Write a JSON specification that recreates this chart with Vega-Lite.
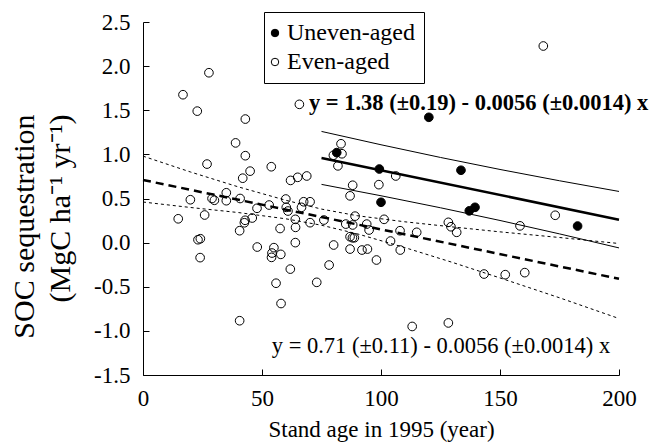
{
  "$schema": "https://vega.github.io/schema/vega-lite/v6.json",
  "width": 476,
  "height": 353,
  "autosize": {"type": "none"},
  "padding": {"left": 143, "top": 22, "right": 37, "bottom": 70},
  "background": "white",
  "config": {
    "view": {"stroke": null},
    "font": "Liberation Serif",
    "axis": {
      "grid": false,
      "domainColor": "black",
      "domainWidth": 1,
      "tickColor": "black",
      "tickWidth": 1,
      "tickSize": -6,
      "labelColor": "black",
      "titleColor": "black",
      "labelFont": "Liberation Serif",
      "titleFont": "Liberation Serif",
      "labelFontSize": 23,
      "titleFontSize": 23,
      "titleFontWeight": "normal",
      "labelFlush": false,
      "labelOverlap": false
    }
  },
  "datasets": {
    "pts": [
      {"age": 27.7, "soc": 1.925, "group": "Even-aged"},
      {"age": 16.8, "soc": 1.676, "group": "Even-aged"},
      {"age": 22.8, "soc": 1.49, "group": "Even-aged"},
      {"age": 43, "soc": 1.40, "group": "Even-aged"},
      {"age": 38.9, "soc": 1.13, "group": "Even-aged"},
      {"age": 43, "soc": 0.985, "group": "Even-aged"},
      {"age": 26.9, "soc": 0.89, "group": "Even-aged"},
      {"age": 53.9, "soc": 0.86, "group": "Even-aged"},
      {"age": 45, "soc": 0.81, "group": "Even-aged"},
      {"age": 41.9, "soc": 0.73, "group": "Even-aged"},
      {"age": 62, "soc": 0.705, "group": "Even-aged"},
      {"age": 65, "soc": 0.74, "group": "Even-aged"},
      {"age": 68.8, "soc": 0.755, "group": "Even-aged"},
      {"age": 65.7, "soc": 1.567, "group": "Even-aged"},
      {"age": 35, "soc": 0.565, "group": "Even-aged"},
      {"age": 19.9, "soc": 0.486, "group": "Even-aged"},
      {"age": 29, "soc": 0.50, "group": "Even-aged"},
      {"age": 30, "soc": 0.48, "group": "Even-aged"},
      {"age": 35, "soc": 0.475, "group": "Even-aged"},
      {"age": 40.8, "soc": 0.50, "group": "Even-aged"},
      {"age": 60, "soc": 0.494, "group": "Even-aged"},
      {"age": 53, "soc": 0.426, "group": "Even-aged"},
      {"age": 60.2, "soc": 0.40, "group": "Even-aged"},
      {"age": 60.9, "soc": 0.358, "group": "Even-aged"},
      {"age": 66.6, "soc": 0.40, "group": "Even-aged"},
      {"age": 47.9, "soc": 0.389, "group": "Even-aged"},
      {"age": 14.8, "soc": 0.27, "group": "Even-aged"},
      {"age": 25.9, "soc": 0.313, "group": "Even-aged"},
      {"age": 45.9, "soc": 0.279, "group": "Even-aged"},
      {"age": 42.9, "soc": 0.253, "group": "Even-aged"},
      {"age": 42.6, "soc": 0.225, "group": "Even-aged"},
      {"age": 40.6, "soc": 0.135, "group": "Even-aged"},
      {"age": 57.6, "soc": 0.16, "group": "Even-aged"},
      {"age": 64, "soc": 0.264, "group": "Even-aged"},
      {"age": 64.1, "soc": 0.173, "group": "Even-aged"},
      {"age": 64, "soc": 0.0, "group": "Even-aged"},
      {"age": 23.1, "soc": 0.033, "group": "Even-aged"},
      {"age": 24.1, "soc": 0.044, "group": "Even-aged"},
      {"age": 24, "soc": -0.17, "group": "Even-aged"},
      {"age": 48, "soc": -0.05, "group": "Even-aged"},
      {"age": 55, "soc": -0.057, "group": "Even-aged"},
      {"age": 54.2, "soc": -0.118, "group": "Even-aged"},
      {"age": 54, "soc": -0.167, "group": "Even-aged"},
      {"age": 57.9, "soc": -0.133, "group": "Even-aged"},
      {"age": 61.9, "soc": -0.30, "group": "Even-aged"},
      {"age": 55.9, "soc": -0.46, "group": "Even-aged"},
      {"age": 58, "soc": -0.69, "group": "Even-aged"},
      {"age": 40.6, "soc": -0.885, "group": "Even-aged"},
      {"age": 83.2, "soc": 1.12, "group": "Even-aged"},
      {"age": 83.6, "soc": 1.007, "group": "Even-aged"},
      {"age": 80, "soc": 0.99, "group": "Even-aged"},
      {"age": 81.9, "soc": 0.87, "group": "Even-aged"},
      {"age": 106.2, "soc": 0.755, "group": "Even-aged"},
      {"age": 88.1, "soc": 0.65, "group": "Even-aged"},
      {"age": 99.1, "soc": 0.657, "group": "Even-aged"},
      {"age": 87, "soc": 0.53, "group": "Even-aged"},
      {"age": 67.5, "soc": 0.463, "group": "Even-aged"},
      {"age": 70.2, "soc": 0.463, "group": "Even-aged"},
      {"age": 70.2, "soc": 0.226, "group": "Even-aged"},
      {"age": 76, "soc": 0.256, "group": "Even-aged"},
      {"age": 89.1, "soc": 0.30, "group": "Even-aged"},
      {"age": 85.2, "soc": 0.21, "group": "Even-aged"},
      {"age": 88.1, "soc": 0.20, "group": "Even-aged"},
      {"age": 94, "soc": 0.21, "group": "Even-aged"},
      {"age": 95, "soc": 0.143, "group": "Even-aged"},
      {"age": 101.3, "soc": 0.264, "group": "Even-aged"},
      {"age": 87, "soc": 0.067, "group": "Even-aged"},
      {"age": 88, "soc": 0.055, "group": "Even-aged"},
      {"age": 88.8, "soc": 0.055, "group": "Even-aged"},
      {"age": 80.1, "soc": -0.027, "group": "Even-aged"},
      {"age": 87, "soc": -0.073, "group": "Even-aged"},
      {"age": 92, "soc": -0.084, "group": "Even-aged"},
      {"age": 94.3, "soc": -0.073, "group": "Even-aged"},
      {"age": 104, "soc": 0.018, "group": "Even-aged"},
      {"age": 108, "soc": 0.135, "group": "Even-aged"},
      {"age": 115, "soc": 0.117, "group": "Even-aged"},
      {"age": 108.1, "soc": -0.084, "group": "Even-aged"},
      {"age": 98.1, "soc": -0.197, "group": "Even-aged"},
      {"age": 78.2, "soc": -0.254, "group": "Even-aged"},
      {"age": 73, "soc": -0.45, "group": "Even-aged"},
      {"age": 113.1, "soc": -0.95, "group": "Even-aged"},
      {"age": 128.3, "soc": -0.91, "group": "Even-aged"},
      {"age": 128.3, "soc": 0.23, "group": "Even-aged"},
      {"age": 129.4, "soc": 0.18, "group": "Even-aged"},
      {"age": 131.8, "soc": 0.117, "group": "Even-aged"},
      {"age": 158.4, "soc": 0.19, "group": "Even-aged"},
      {"age": 173.2, "soc": 0.31, "group": "Even-aged"},
      {"age": 143.3, "soc": -0.356, "group": "Even-aged"},
      {"age": 152.2, "soc": -0.363, "group": "Even-aged"},
      {"age": 160.4, "soc": -0.34, "group": "Even-aged"},
      {"age": 168.2, "soc": 2.228, "group": "Even-aged"},
      {"age": 81.4, "soc": 1.02, "group": "Uneven-aged"},
      {"age": 99.3, "soc": 0.834, "group": "Uneven-aged"},
      {"age": 100, "soc": 0.457, "group": "Uneven-aged"},
      {"age": 120.1, "soc": 1.42, "group": "Uneven-aged"},
      {"age": 133.6, "soc": 0.82, "group": "Uneven-aged"},
      {"age": 137.1, "soc": 0.36, "group": "Uneven-aged"},
      {"age": 139.5, "soc": 0.40, "group": "Uneven-aged"},
      {"age": 182.6, "soc": 0.188, "group": "Uneven-aged"}
    ],
    "fitU": [
      {"age": 75, "soc": 0.96},
      {"age": 200, "soc": 0.26}
    ],
    "ciU": [
      {"age": 75, "soc": 1.26, "band": "upper"},
      {"age": 100, "soc": 1.109, "band": "upper"},
      {"age": 125, "soc": 0.965, "band": "upper"},
      {"age": 150, "soc": 0.829, "band": "upper"},
      {"age": 175, "soc": 0.701, "band": "upper"},
      {"age": 200, "soc": 0.58, "band": "upper"},
      {"age": 75, "soc": 0.66, "band": "lower"},
      {"age": 100, "soc": 0.531, "band": "lower"},
      {"age": 125, "soc": 0.395, "band": "lower"},
      {"age": 150, "soc": 0.251, "band": "lower"},
      {"age": 175, "soc": 0.099, "band": "lower"},
      {"age": 200, "soc": -0.06, "band": "lower"}
    ],
    "fitE": [
      {"age": 0, "soc": 0.71},
      {"age": 200, "soc": -0.41}
    ],
    "ciE": [
      {"age": 0, "soc": 0.98, "band": "upper"},
      {"age": 20, "soc": 0.80, "band": "upper"},
      {"age": 40, "soc": 0.632, "band": "upper"},
      {"age": 60, "soc": 0.48, "band": "upper"},
      {"age": 75, "soc": 0.38, "band": "upper"},
      {"age": 90, "soc": 0.305, "band": "upper"},
      {"age": 110, "soc": 0.236, "band": "upper"},
      {"age": 130, "soc": 0.178, "band": "upper"},
      {"age": 150, "soc": 0.122, "band": "upper"},
      {"age": 175, "soc": 0.058, "band": "upper"},
      {"age": 200, "soc": -0.01, "band": "upper"},
      {"age": 0, "soc": 0.46, "band": "lower"},
      {"age": 20, "soc": 0.398, "band": "lower"},
      {"age": 40, "soc": 0.341, "band": "lower"},
      {"age": 60, "soc": 0.27, "band": "lower"},
      {"age": 75, "soc": 0.197, "band": "lower"},
      {"age": 90, "soc": 0.1, "band": "lower"},
      {"age": 110, "soc": -0.056, "band": "lower"},
      {"age": 130, "soc": -0.224, "band": "lower"},
      {"age": 150, "soc": -0.40, "band": "lower"},
      {"age": 175, "soc": -0.625, "band": "lower"},
      {"age": 200, "soc": -0.86, "band": "lower"}
    ],
    "eqU": [
      {"age": 69.7, "soc": 1.5025, "label": "y = 1.38 (±0.19) - 0.0056 (±0.0014) x"}
    ],
    "eqE": [
      {"age": 54.1, "soc": -1.254, "label": "y = 0.71 (±0.11) - 0.0056 (±0.0014) x"}
    ]
  },
  "encoding": {
    "x": {
      "field": "age",
      "type": "quantitative",
      "scale": {"domain": [0, 200], "nice": false, "zero": false},
      "axis": {
        "values": [0, 50, 100, 150, 200],
        "title": "Stand age in 1995 (year)",
        "labelBaseline": "alphabetic",
        "labelPadding": 36,
        "titleY": 61,
        "titleBaseline": "alphabetic"
      }
    },
    "y": {
      "field": "soc",
      "type": "quantitative",
      "scale": {"domain": [-1.5, 2.5], "nice": false, "zero": false},
      "axis": {
        "values": [-1.5, -1, -0.5, 0, 0.5, 1, 1.5, 2, 2.5],
        "labelExpr": "replace(format(datum.value, '.1f'), '\u2212', '-')",
        "labelBaseline": "middle",
        "labelPadding": 19,
        "title": ["SOC sequestration", "(MgC ha⁻¹ yr⁻¹)"],
        "titleFontSize": 30,
        "titleAngle": 270,
        "titleAlign": "right",
        "titleBaseline": "middle",
        "titleLineHeight": 36,
        "titleX": -119,
        "titleY": 92
      }
    }
  },
  "layer": [
    {
      "data": {"name": "ciE"},
      "mark": {"type": "line", "color": "black", "strokeWidth": 1, "strokeDash": [3, 3]},
      "encoding": {"detail": {"field": "band", "type": "nominal"}}
    },
    {
      "data": {"name": "fitE"},
      "mark": {"type": "line", "color": "black", "strokeWidth": 2.5, "strokeDash": [8, 5]},
      "encoding": {}
    },
    {
      "data": {"name": "ciU"},
      "mark": {"type": "line", "color": "black", "strokeWidth": 1},
      "encoding": {"detail": {"field": "band", "type": "nominal"}}
    },
    {
      "data": {"name": "fitU"},
      "mark": {"type": "line", "color": "black", "strokeWidth": 2.5},
      "encoding": {}
    },
    {
      "data": {"name": "pts"},
      "mark": {"type": "point", "shape": "circle", "filled": true, "size": 75, "stroke": "black", "strokeWidth": 1, "opacity": 1},
      "encoding": {
        "fill": {
          "field": "group",
          "type": "nominal",
          "scale": {"domain": ["Uneven-aged", "Even-aged"], "range": ["black", "transparent"]},
          "legend": {
            "orient": "none",
            "legendX": 121,
            "legendY": -10,
            "title": null,
            "strokeColor": "black",
            "fillColor": "white",
            "padding": 9,
            "labelFont": "Liberation Serif",
            "labelFontSize": 24,
            "labelColor": "black",
            "labelOffset": 0,
            "symbolOffset": -10,
            "rowPadding": 5,
            "symbolType": "circle",
            "symbolSize": 56,
            "symbolStrokeColor": "black",
            "symbolStrokeWidth": 1,
            "symbolOpacity": 1
          }
        }
      }
    },
    {
      "data": {"name": "eqU"},
      "mark": {"type": "text", "align": "left", "baseline": "alphabetic", "font": "Liberation Serif", "fontSize": 22.5, "fontWeight": "bold", "color": "black"},
      "encoding": {"text": {"field": "label"}}
    },
    {
      "data": {"name": "eqE"},
      "mark": {"type": "text", "align": "left", "baseline": "alphabetic", "font": "Liberation Serif", "fontSize": 22.5, "color": "black"},
      "encoding": {"text": {"field": "label"}}
    }
  ]
}
